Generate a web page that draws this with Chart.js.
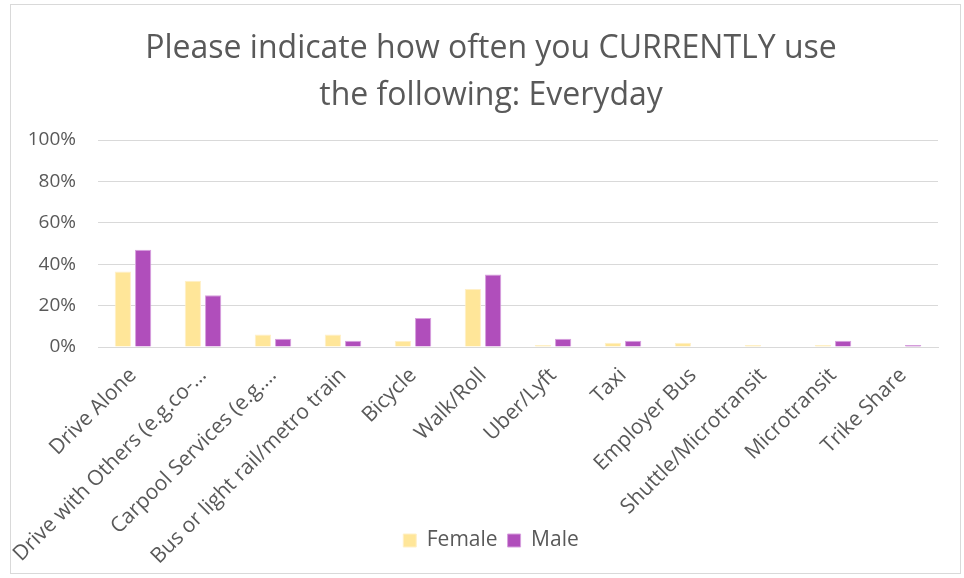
<!DOCTYPE html>
<html>
<head>
<meta charset="utf-8">
<script src="https://cdn.jsdelivr.net/npm/chart.js@4/dist/chart.umd.min.js"></script>
<style>
  body { margin: 0; background: #fff; }
  #frame {
    position: absolute;
    left: 10px;
    top: 4px;
    width: 951px;
    height: 570px;
    border: 1px solid #d9d9d9;
    box-sizing: border-box;
  }
</style>
</head>
<body>
<div id="frame"><canvas id="chart"></canvas></div>
<script>
const categories = [
  "Drive Alone",
  "Drive with Others (e.g.co-…",
  "Carpool Services (e.g.…",
  "Bus or light rail/metro train",
  "Bicycle",
  "Walk/Roll",
  "Uber/Lyft",
  "Taxi",
  "Employer Bus",
  "Shuttle/Microtransit",
  "Microtransit",
  "Trike Share",
];
const female = [36.5, 32, 6, 6, 3, 28, 1, 2, 2, 1, 1, 0];
const male = [47, 25, 4, 3, 14, 35, 4, 3, 0, 0, 3, 1];
const yTicks = [0, 20, 40, 60, 80, 100];

const textColor = "#595959";
const gridColor = "#d9d9d9";
const fontFamily = "'Open Sans', sans-serif";

new Chart(document.getElementById("chart"), {
  type: "bar",
  data: {
    labels: categories,
    datasets: [
      {
        label: "Female",
        data: female,
        backgroundColor: "rgb(255,230,153)",
        borderColor: "rgb(255,240,200)",
        borderWidth: 1,
        categoryPercentage: 0.58,
        barPercentage: 0.8,
      },
      {
        label: "Male",
        data: male,
        backgroundColor: "rgb(176,78,187)",
        borderColor: "rgb(215,160,222)",
        borderWidth: 1,
        categoryPercentage: 0.58,
        barPercentage: 0.8,
      },
    ],
  },
  options: {
    responsive: true,
    maintainAspectRatio: false,
    animation: false,
    layout: {
      padding: { left: 14, right: 3, top: 6, bottom: 12 },
    },
    plugins: {
      title: {
        display: true,
        text: [
          "Please indicate how often you CURRENTLY use",
          "the following: Everyday",
        ],
        color: textColor,
        font: { family: fontFamily, size: 32, weight: "normal", lineHeight: 1.47 },
        padding: { top: 14, bottom: 21 },
      },
      legend: {
        position: "bottom",
        labels: {
          color: textColor,
          font: { family: fontFamily, size: 21 },
          boxWidth: 13,
          boxHeight: 13,
          padding: 10,
        },
      },
      tooltip: { enabled: false },
    },
    scales: {
      x: {
        grid: { display: false, drawTicks: false },
        border: { display: true, color: gridColor },
        ticks: {
          color: textColor,
          font: { family: fontFamily, size: 21 },
          maxRotation: 45,
          minRotation: 45,
          padding: 16,
          autoSkip: false,
        },
        afterFit: (axis) => {
          // labels run down beside the legend, as in the original
          axis.height = 173;
          axis.paddingLeft = 0;
          axis.paddingRight = 22;
          axis._computeLabelArea = () => undefined;
        },
      },
      y: {
        min: 0,
        max: 100,
        afterBuildTicks: (axis) => {
          axis.ticks = yTicks.map((v) => ({ value: v }));
        },
        grid: { color: gridColor, drawTicks: false },
        border: { display: false },
        ticks: {
          color: textColor,
          font: { family: fontFamily, size: 19 },
          padding: 22,
          callback: (v) => v + "%",
        },
        afterFit: (axis) => {
          axis.width = 73;
        },
      },
    },
  },
});
</script>
</body>
</html>
